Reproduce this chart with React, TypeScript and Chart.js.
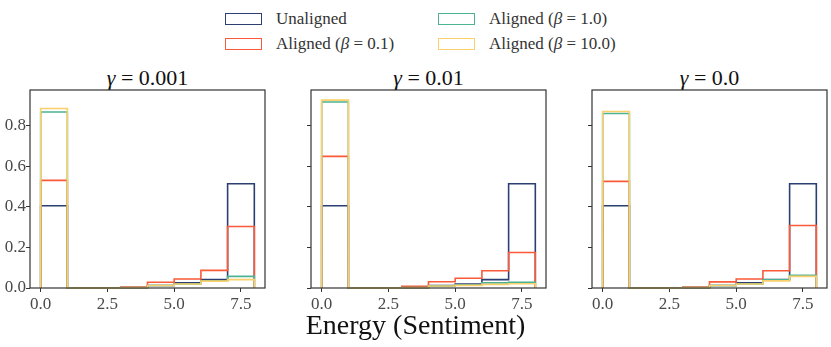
import React, { useEffect, useRef } from "react";
import { Chart, registerables } from "chart.js";
Chart.register(...registerables);

// ---- data ----
const binEdges = [0, 1, 2, 3, 4, 5, 6, 7, 8];
const xTickValues = [0, 2.5, 5, 7.5];
const yTickValues = [0, 0.2, 0.4, 0.6, 0.8];
const gammaLabels = ["0.001", "0.01", "0.0"];
const seriesColors = ["#2b3f73", "#fa5a37", "#4cb393", "#f9d06c"];

// gamma = 0.001
const unalignedA = [0.405, 0.0, 0.0, 0.001, 0.012, 0.025, 0.041, 0.513];
const beta01A = [0.53, 0.0, 0.0, 0.005, 0.028, 0.044, 0.087, 0.303];
const beta1A = [0.867, 0.0, 0.0, 0.002, 0.012, 0.02, 0.035, 0.057];
const beta10A = [0.884, 0.0, 0.0, 0.001, 0.012, 0.02, 0.034, 0.041];
// gamma = 0.01
const unalignedB = [0.405, 0.0, 0.0, 0.001, 0.012, 0.02, 0.041, 0.513];
const beta01B = [0.648, 0.0, 0.0, 0.008, 0.031, 0.048, 0.085, 0.175];
const beta1B = [0.916, 0.0, 0.0, 0.002, 0.01, 0.015, 0.025, 0.028];
const beta10B = [0.925, 0.0, 0.0, 0.001, 0.01, 0.013, 0.018, 0.021];
// gamma = 0.0
const unalignedC = [0.405, 0.0, 0.0, 0.001, 0.012, 0.025, 0.041, 0.513];
const beta01C = [0.525, 0.0, 0.0, 0.005, 0.03, 0.044, 0.085, 0.308];
const beta1C = [0.859, 0.0, 0.0, 0.002, 0.012, 0.02, 0.04, 0.062];
const beta10C = [0.869, 0.0, 0.0, 0.001, 0.012, 0.02, 0.035, 0.057];

const panels = [
  [unalignedA, beta01A, beta1A, beta10A],
  [unalignedB, beta01B, beta1B, beta10B],
  [unalignedC, beta01C, beta1C, beta10C],
];

const SERIF = "'Liberation Serif', 'DejaVu Serif', serif";

// outline of a histogram: up the left edge, across each bin, down the right edge
function stepPoints(values: number[]) {
  const pts: { x: number; y: number }[] = [{ x: binEdges[0], y: 0 }];
  values.forEach((v, i) => {
    pts.push({ x: binEdges[i], y: v });
    pts.push({ x: binEdges[i + 1], y: v });
  });
  pts.push({ x: binEdges[binEdges.length - 1], y: 0 });
  return pts;
}

const boxPlugin = {
  id: "boxPlugin",
  afterDatasetsDraw(chart: any) {
    const { ctx, chartArea } = chart;
    ctx.save();
    ctx.strokeStyle = "#333";
    ctx.lineWidth = 1.2;
    ctx.strokeRect(chartArea.left, chartArea.top, chartArea.right - chartArea.left, chartArea.bottom - chartArea.top);
    ctx.restore();
  },
};

function Panel({ series, showY, left, width }: { series: number[][]; showY: boolean; left: number; width: number }) {
  const ref = useRef<HTMLCanvasElement>(null);
  useEffect(() => {
    const chart = new Chart(ref.current!, {
      type: "line",
      data: {
        datasets: series.map((vals, i) => ({
          data: stepPoints(vals),
          borderColor: seriesColors[i],
          borderWidth: 1.6,
          pointRadius: 0,
          tension: 0,
          fill: false,
          clip: false,
          order: 4 - i,
        })),
      },
      options: {
        animation: false,
        responsive: false,
        maintainAspectRatio: false,
        layout: { padding: { left: 0, right: width - 265, top: 20, bottom: 0 } },
        plugins: { legend: { display: false }, tooltip: { enabled: false } },
        scales: {
          x: {
            type: "linear",
            min: -0.4,
            max: 8.4,
            afterBuildTicks: (s: any) => {
              s.ticks = xTickValues.map((v) => ({ value: v }));
            },
            afterFit: (s: any) => {
              s.height = 22;
            },
            border: { display: false },
            grid: { display: true, drawOnChartArea: false, drawTicks: true, tickLength: 4, color: "#333" },
            ticks: {
              padding: 2,
              color: "#4a4a4a",
              font: { family: SERIF, size: 17 },
              maxRotation: 0,
              callback: (v: any) => Number(v).toFixed(1),
            },
          },
          y: {
            type: "linear",
            min: 0,
            max: 0.975,
            afterBuildTicks: (s: any) => {
              s.ticks = yTickValues.map((v) => ({ value: v }));
            },
            afterFit: (s: any) => {
              s.width = 30;
            },
            border: { display: false },
            grid: { display: true, drawOnChartArea: false, drawTicks: true, tickLength: 4, color: "#333" },
            ticks: {
              display: showY,
              padding: 0,
              color: "#4a4a4a",
              font: { family: SERIF, size: 17 },
              callback: (v: any) => Number(v).toFixed(1),
            },
          },
        },
      },
      plugins: [boxPlugin],
    });
    return () => chart.destroy();
  }, []);
  return (
    <canvas
      ref={ref}
      width={width}
      height={240}
      style={{ position: "absolute", left, top: 70, width, height: 240 }}
    />
  );
}

const legendItems = [
  { label: <>Unaligned</>, color: seriesColors[0], x: 225, y: 12 },
  { label: <>Aligned (<i>β</i> = 0.1)</>, color: seriesColors[1], x: 225, y: 37 },
  { label: <>Aligned (<i>β</i> = 1.0)</>, color: seriesColors[2], x: 438, y: 12 },
  { label: <>Aligned (<i>β</i> = 10.0)</>, color: seriesColors[3], x: 438, y: 37 },
];

export default function App() {
  const lefts = [0, 281, 562];
  const widths = [270, 270, 269];
  return (
    <div
      style={{
        position: "fixed",
        left: 0,
        top: 0,
        width: 831,
        height: 347,
        background: "#fff",
        fontFamily: SERIF,
        color: "#333",
        overflow: "hidden",
      }}
    >
      {legendItems.map((it, i) => (
        <div key={i} style={{ position: "absolute", left: it.x, top: it.y, height: 13, display: "flex", alignItems: "center" }}>
          <div style={{ width: 35, height: 10, border: `1.6px solid ${it.color}`, boxSizing: "content-box" }} />
          <span style={{ marginLeft: 14, fontSize: 17, whiteSpace: "nowrap", lineHeight: "13px" }}>{it.label}</span>
        </div>
      ))}
      {panels.map((series, i) => (
        <React.Fragment key={i}>
          <div
            style={{
              position: "absolute",
              left: lefts[i] + 30,
              width: 235,
              top: 66,
              textAlign: "center",
              fontSize: 22,
              lineHeight: "24px",
              color: "#111",
            }}
          >
            <i>γ</i> = {gammaLabels[i]}
          </div>
          <Panel series={series} showY={i === 0} left={lefts[i]} width={widths[i]} />
        </React.Fragment>
      ))}
      <div
        style={{
          position: "absolute",
          left: 0,
          width: 831,
          top: 309,
          textAlign: "center",
          fontSize: 28,
          lineHeight: "32px",
          color: "#111",
        }}
      >
        Energy (Sentiment)
      </div>
    </div>
  );
}
